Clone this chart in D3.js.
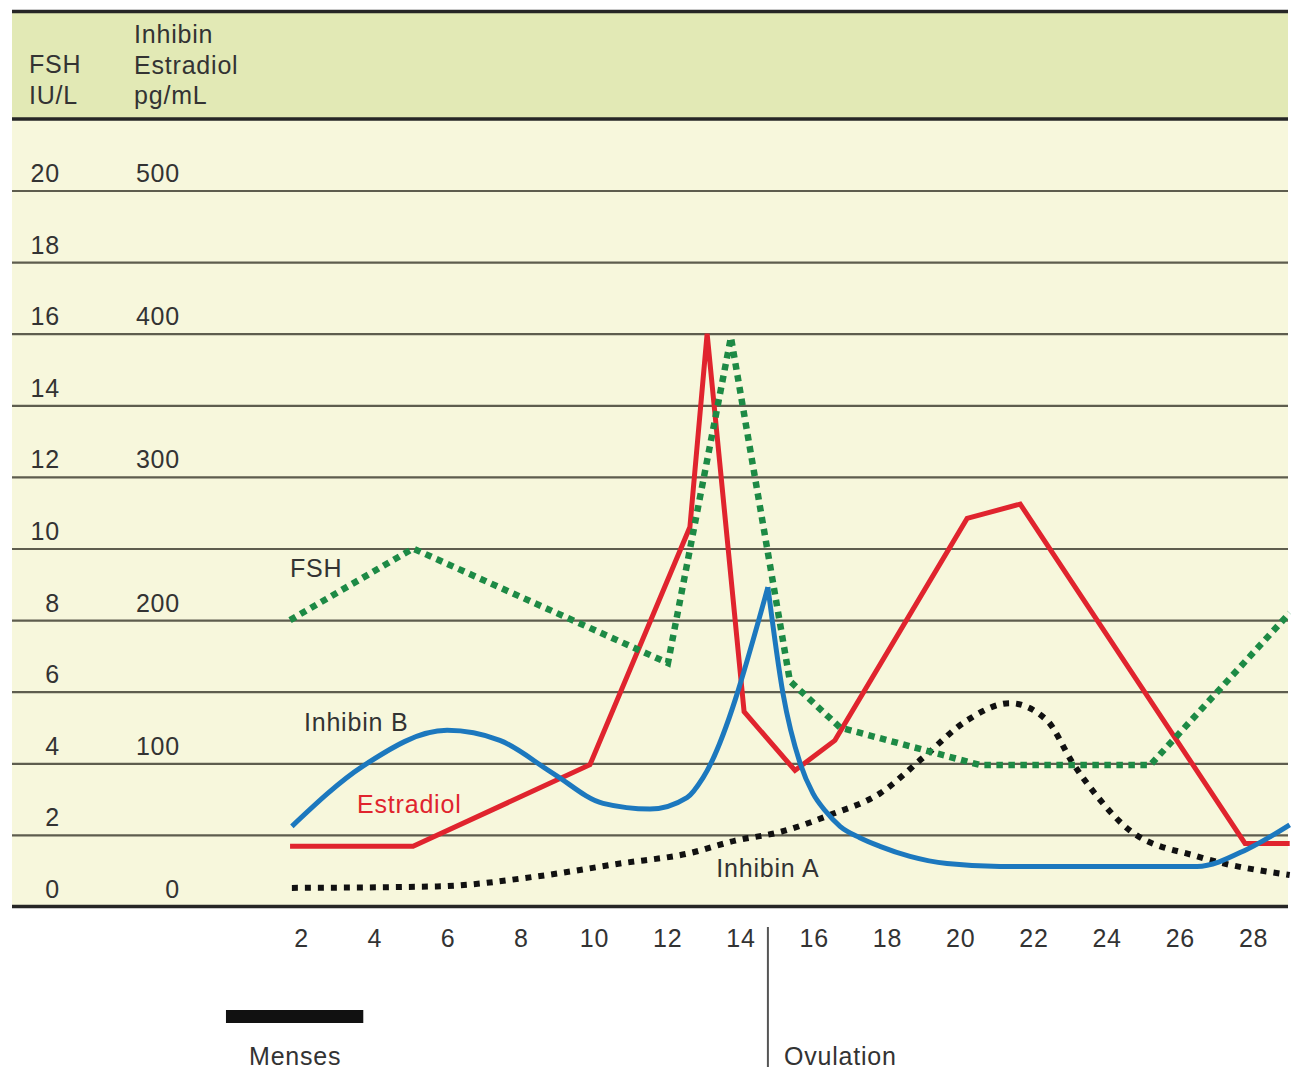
<!DOCTYPE html>
<html>
<head>
<meta charset="utf-8">
<script src="https://cdn.jsdelivr.net/npm/d3@7"></script>
<style>
  html, body { margin: 0; padding: 0; background: #ffffff; }
  text { font-family: "Liberation Sans", Arial, Helvetica, sans-serif; fill: #333; letter-spacing: 0.8px; }
</style>
</head>
<body>
<script>
// ---------------- DATA ----------------
// Day of cycle tick labels
const dayTicks = [2, 4, 6, 8, 10, 12, 14, 16, 18, 20, 22, 24, 26, 28];
// Left axis (FSH IU/L) tick labels
const fshTicks = [0, 2, 4, 6, 8, 10, 12, 14, 16, 18, 20];
// Second axis (Inhibin / Estradiol pg/mL) tick labels
const pgTicks = [0, 100, 200, 300, 400, 500];

// FSH (IU/L)
const fshDays = [1.7, 5.06, 12.02, 13.74, 15.35, 16.72, 20.55, 25.19, 29.0];
const fshVals = [8.0, 10.0, 6.8, 15.9, 6.3, 5.0, 3.95, 3.95, 8.2];

// Estradiol (pg/mL)
const e2Days = [1.7, 5.06, 9.89, 12.62, 13.09, 14.10, 15.49, 16.58, 20.19, 21.64, 27.78, 29.0];
const e2Vals = [42, 42, 99, 265, 400, 136, 95, 116, 271, 281, 44, 44];

// Inhibin B (pg/mL)
const inhBDays = [1.75, 3.69, 5.99, 7.43, 8.88, 10.25, 11.53, 12.54, 12.98, 14.75, 15.16, 15.63, 15.98, 16.31, 16.72, 17.26, 17.81, 18.63, 19.64, 21.09, 26.47, 27.84, 29.0];
const inhBVals = [56, 98, 123, 116, 93, 72, 68, 76, 90, 223, 149, 100, 79, 67, 56, 48, 42, 35, 30, 28, 28, 40, 57];

// Inhibin A (pg/mL)
const inhADays = [1.75, 5.71, 8.44, 10.71, 12.57, 13.86, 15.08, 16.45, 17.81, 18.99, 20.19, 21.36, 22.37, 23.08, 23.74, 24.64, 26.47, 29.0];
const inhAVals = [13, 14, 21, 30, 37, 46, 52, 64, 79, 104, 130, 142, 130, 100, 77, 53, 35, 22];

// Curve labels: [text, day, FSH-scale value, colour]
const curveLabels = [
  ["FSH", 1.70, 9.2, "#333"],
  ["Inhibin B", 2.08, 4.9, "#333"],
  ["Estradiol", 3.53, 2.62, "#e0242e"],
  ["Inhibin A", 13.34, 0.83, "#333"]
];

// Menses span (days) and ovulation day
const mensesSpan = [-0.05, 3.7];
const ovulationDay = 14.75;

// ---------------- CHART ----------------
const W = 1291, H = 1069;
const frameLeft = 12, frameRight = 1288;

const svg = d3.select("body").append("svg")
  .attr("width", W).attr("height", H);

const x = d3.scaleLinear().domain([0, 29]).range([227.8, 1289.7]);
const y = d3.scaleLinear().domain([0, 25]).range([906.5, 11.5]);      // FSH IU/L
const yPg = d3.scaleLinear().domain([0, 625]).range([906.5, 11.5]);   // pg/mL

// backgrounds
svg.append("rect")
  .attr("x", frameLeft).attr("y", y(25))
  .attr("width", frameRight - frameLeft).attr("height", y(22) - y(25))
  .attr("fill", "#e2e9b5");
svg.append("rect")
  .attr("x", frameLeft).attr("y", y(22))
  .attr("width", frameRight - frameLeft).attr("height", y(0) - y(22))
  .attr("fill", "#f7f7dc");

// grid lines through an axis
const grid = svg.append("g")
  .attr("transform", `translate(${frameLeft},0)`)
  .call(d3.axisRight(y).tickValues(fshTicks.filter(v => v > 0)).tickSize(frameRight - frameLeft).tickFormat(""));
grid.select(".domain").remove();
grid.selectAll("line").attr("stroke", "#5e5d4e").attr("stroke-width", 2.2);

// frame lines (top, header bottom, baseline)
[[25, 3.5], [22, 3.5], [0, 3.5]].forEach(([v, w]) => {
  svg.append("line")
    .attr("x1", frameLeft).attr("x2", frameRight)
    .attr("y1", y(v)).attr("y2", y(v))
    .attr("stroke", "#262626").attr("stroke-width", w);
});

// header text
const header = svg.append("g").style("font-size", "25px");
header.append("text").attr("x", 29).attr("y", 73).text("FSH");
header.append("text").attr("x", 29).attr("y", 104).text("IU/L");
header.append("text").attr("x", 134).attr("y", 43).text("Inhibin");
header.append("text").attr("x", 134).attr("y", 74).text("Estradiol");
header.append("text").attr("x", 134).attr("y", 104).text("pg/mL");

// left axis (FSH)
const axL = svg.append("g")
  .attr("transform", "translate(60,0)")
  .call(d3.axisLeft(y).tickValues(fshTicks).tickSize(0).tickPadding(0));
axL.select(".domain").remove();
axL.selectAll("text")
  .attr("dy", -9).attr("x", 0)
  .style("font-size", "25px").style("font-family", "Liberation Sans, Arial, sans-serif").attr("fill", "#333");

// second axis (pg/mL)
const axR = svg.append("g")
  .attr("transform", "translate(180,0)")
  .call(d3.axisLeft(yPg).tickValues(pgTicks).tickSize(0).tickPadding(0));
axR.select(".domain").remove();
axR.selectAll("text")
  .attr("dy", -9).attr("x", 0)
  .style("font-size", "25px").style("font-family", "Liberation Sans, Arial, sans-serif").attr("fill", "#333");

// bottom axis (days)
const axB = svg.append("g")
  .attr("transform", "translate(0,947)")
  .call(d3.axisBottom(x).tickValues(dayTicks).tickSize(0).tickPadding(0));
axB.select(".domain").remove();
axB.selectAll("text")
  .attr("y", 0).attr("dy", 0)
  .style("font-size", "25px").style("font-family", "Liberation Sans, Arial, sans-serif").attr("fill", "#333");

// series helpers
const zip = (ds, vs) => ds.map((d, i) => ({ day: d, val: vs[i] }));

const fshData = zip(fshDays, fshVals);
const e2Data = zip(e2Days, e2Vals);
const inhBData = zip(inhBDays, inhBVals);
const inhAData = zip(inhADays, inhAVals);

const lineF = d3.line().x(d => x(d.day)).y(d => y(d.val));
const linePg = d3.line().x(d => x(d.day)).y(d => yPg(d.val));
const linePgSmooth = d3.line().x(d => x(d.day)).y(d => yPg(d.val)).curve(d3.curveMonotoneX);

const plot = svg.append("g");

// Inhibin A (black dotted, smooth)
plot.append("path")
  .datum(inhAData)
  .attr("d", linePgSmooth)
  .attr("fill", "none").attr("stroke", "#111")
  .attr("stroke-width", 6).attr("stroke-dasharray", "6,7");

// Estradiol (red)
plot.append("path")
  .datum(e2Data)
  .attr("d", linePg)
  .attr("fill", "none").attr("stroke", "#e0242e")
  .attr("stroke-width", 5).attr("stroke-linejoin", "miter");

// FSH (green dotted)
plot.append("path")
  .datum(fshData)
  .attr("d", lineF)
  .attr("fill", "none").attr("stroke", "#1d8a45")
  .attr("stroke-width", 6.5).attr("stroke-dasharray", "6.5,5.5");

// Inhibin B (blue, smooth with a pointed peak)
const peakIdx = d3.maxIndex(inhBData, d => d.val);
[inhBData.slice(0, peakIdx + 1), inhBData.slice(peakIdx)].forEach(seg => {
  plot.append("path")
    .datum(seg)
    .attr("d", linePgSmooth)
    .attr("fill", "none").attr("stroke", "#1c78be")
    .attr("stroke-width", 5).attr("stroke-linejoin", "round");
});

// curve labels
curveLabels.forEach(([t, d, v, c]) => {
  svg.append("text")
    .attr("x", x(d)).attr("y", y(v))
    .style("font-size", "25px")
    .attr("fill", c).style("fill", c)
    .text(t);
});

// menses bar
svg.append("rect")
  .attr("x", x(mensesSpan[0])).attr("y", 1010)
  .attr("width", x(mensesSpan[1]) - x(mensesSpan[0])).attr("height", 13)
  .attr("fill", "#111");
svg.append("text").attr("x", 249).attr("y", 1065).style("font-size", "25px").text("Menses");

// ovulation marker
svg.append("line")
  .attr("x1", x(ovulationDay)).attr("x2", x(ovulationDay))
  .attr("y1", 927).attr("y2", 1067)
  .attr("stroke", "#555").attr("stroke-width", 2);
svg.append("text").attr("x", x(ovulationDay) + 16).attr("y", 1065).style("font-size", "25px").text("Ovulation");
</script>
</body>
</html>
